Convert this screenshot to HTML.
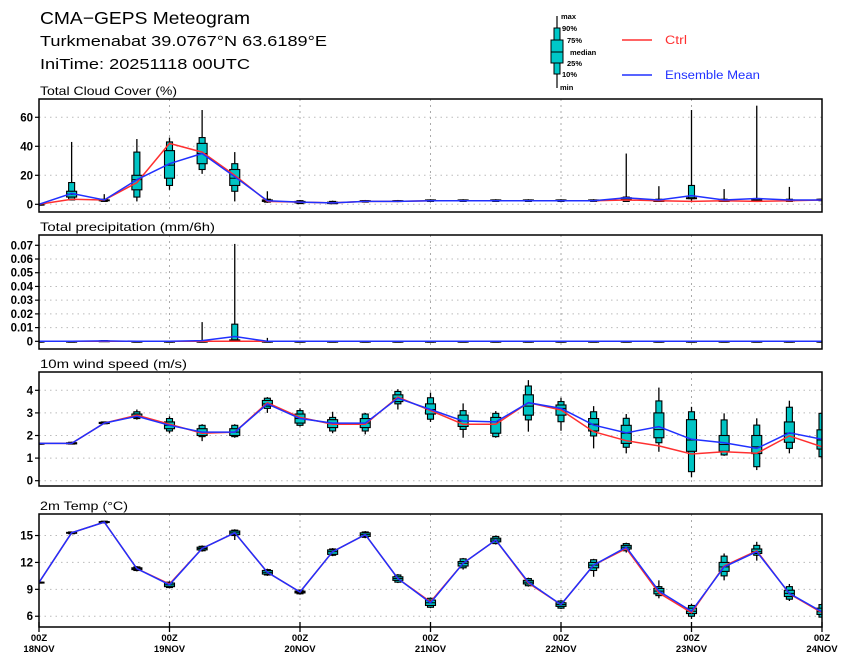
<!DOCTYPE html>
<html><head><meta charset="utf-8"><style>
html,body{margin:0;padding:0;background:#fff;}
svg{display:block;font-family:"Liberation Sans",Arial,sans-serif;}
</style></head><body>
<svg id="chart" width="849" height="664" viewBox="0 0 849 664" xmlns="http://www.w3.org/2000/svg">
<text x="40" y="24" font-size="17.5" fill="#000" textLength="210" lengthAdjust="spacingAndGlyphs">CMA−GEPS Meteogram</text>
<text x="40" y="46" font-size="15" fill="#000" textLength="287" lengthAdjust="spacingAndGlyphs">Turkmenabat 39.0767°N 63.6189°E</text>
<text x="40" y="69" font-size="15" fill="#000" textLength="210" lengthAdjust="spacingAndGlyphs">IniTime: 20251118 00UTC</text>
<g>
 <line x1="557" y1="16" x2="557" y2="88" stroke="#000" stroke-width="1.2"/>
 <rect x="554" y="28" width="6" height="46" fill="#00c8c8" stroke="#000"/>
 <rect x="551" y="40" width="12" height="23" fill="#00c8c8" stroke="#000"/>
 <line x1="551" y1="52" x2="563" y2="52" stroke="#000"/>
 <g font-size="7.5" font-weight="bold" fill="#000">
  <text x="561" y="19">max</text><text x="562" y="31">90%</text><text x="567" y="43">75%</text>
  <text x="570" y="55">median</text><text x="567" y="66">25%</text><text x="562" y="77">10%</text><text x="560" y="90">min</text>
 </g>
 <line x1="622" y1="40" x2="652" y2="40" stroke="#ff3030" stroke-width="1.5"/>
 <text x="665" y="44" font-size="11.5" fill="#ff3030" textLength="22" lengthAdjust="spacingAndGlyphs">Ctrl</text>
 <line x1="622" y1="75" x2="652" y2="75" stroke="#2030ff" stroke-width="1.5"/>
 <text x="665" y="79" font-size="11.5" fill="#2030ff" textLength="95" lengthAdjust="spacingAndGlyphs">Ensemble Mean</text>
</g>
<g id="panels"></g>
</svg>
<script>
// ---- data (25 steps, 6-hourly from 00Z 18NOV) ----
const dayLabels = ["18NOV","19NOV","20NOV","21NOV","22NOV","23NOV","24NOV"];
// Cloud cover (%)
const cloudMean = [0,7.5,3,17,28,35,19,2.5,1.5,1,2,2,2.5,2.5,2.5,2.5,2.5,2.5,4.5,3,6,3,4,3,3];
const cloudCtrl = [0,3.5,3,15,42,36,20,2,1.5,1,2,2,2.5,2.5,2.5,2.5,2.5,2.5,3,2.5,2,2.5,2,2.5,3];
const cloudMin = [0,3,2,2,10,21,2,1,0.5,0.5,1.5,1.5,2,2,2,2,2,2,2,2,2,2,2,2,2.5];
const cloudP10 = [0,3,2,5,13,24,9,1.5,0.5,0.5,1.5,2,2,2,2,2,2,2,2,2,3.9,2,2,2,2.5];
const cloudP25 = [0,5,2.5,10,18,28,13,2,1,0.5,2,2,2.5,2.5,2.5,2.5,2.5,2.5,3,2,3.9,2,2,2.5,3];
const cloudMed = [0,7,3,17,27,35,18,2.5,1.5,1,2,2,2.5,2.5,2.5,2.5,2.5,2.5,3.5,2.5,4,2.5,2.5,2.5,3];
const cloudP75 = [0,9,3,20,37,42,24,3,2,1.5,2.5,2.5,3,3,3,3,3,3,4.5,3,4.5,3,3,3,3.5];
const cloudP90 = [0,15,3.5,36,43,46,28,3.5,2.5,2,2.5,2.5,3,3,3,3,3,3,5,3.5,13,3.5,4,3.5,3.5];
const cloudMax = [0,43,7,45,46,65,36,9,3,2.5,3,3,3.5,3.5,3.5,3.5,3.5,3.5,35,12.5,65,10.5,68,12,4];
const cloudTicks = [0,20,40,60];
// Precipitation (mm/6h)
const precMean = [0,0,0.0003,0,0,0.0005,0.0035,0,0,0,0,0,0,0,0,0,0,0,0,0,0,0,0,0,0];
const precCtrl = [0,0,0,0,0,0,0,0,0,0,0,0,0,0,0,0,0,0,0,0,0,0,0,0,0];
const precMin = [0,0,0,0,0,0,0,0,0,0,0,0,0,0,0,0,0,0,0,0,0,0,0,0,0];
const precP10 = [0,0,0,0,0,0,0.001,0,0,0,0,0,0,0,0,0,0,0,0,0,0,0,0,0,0];
const precP25 = [0,0,0,0,0,0,0.001,0,0,0,0,0,0,0,0,0,0,0,0,0,0,0,0,0,0];
const precMed = [0,0,0.0003,0,0,0,0.001,0,0,0,0,0,0,0,0,0,0,0,0,0,0,0,0,0,0];
const precP75 = [0,0,0.0003,0,0,0,0.001,0,0,0,0,0,0,0,0,0,0,0,0,0,0,0,0,0,0];
const precP90 = [0,0,0.0005,0,0,0,0.0125,0,0,0,0,0,0,0,0,0,0,0,0,0,0,0,0,0,0];
const precMax = [0,0,0.0008,0,0,0.014,0.071,0.0025,0,0,0,0,0,0,0,0,0,0,0,0,0,0,0,0,0];
const precTicks = [0,0.01,0.02,0.03,0.04,0.05,0.06,0.07];
// 10m wind speed (m/s)
const windMean = [1.65,1.65,2.55,2.85,2.45,2.15,2.15,3.4,2.75,2.55,2.55,3.65,3.15,2.64,2.6,3.45,3.2,2.46,2.12,2.39,1.83,1.68,1.43,2.12,1.83];
const windCtrl = [1.65,1.65,2.55,2.9,2.5,2.1,2.15,3.45,2.8,2.5,2.5,3.7,3.1,2.5,2.5,3.45,3.13,2.17,1.77,1.54,1.18,1.28,1.21,1.98,1.5];
const windMin = [1.65,1.6,2.5,2.7,2.1,1.75,1.9,3.0,2.4,2.1,2.05,3.15,2.6,1.9,1.9,2.17,2.21,1.43,1.21,1.28,0.15,1.1,0.47,1.21,1.0];
const windP10 = [1.65,1.62,2.52,2.75,2.2,1.95,1.95,3.2,2.45,2.2,2.2,3.4,2.72,2.27,1.95,2.69,2.61,1.98,1.48,1.68,0.4,1.14,0.62,1.43,1.06];
const windP25 = [1.65,1.63,2.53,2.8,2.3,2.0,2.0,3.3,2.55,2.35,2.35,3.5,2.95,2.4,2.1,2.9,2.9,2.2,1.65,1.9,1.3,1.3,1.2,1.7,1.4];
const windMed = [1.65,1.65,2.55,2.85,2.45,2.15,2.15,3.4,2.75,2.55,2.55,3.65,3.15,2.64,2.6,3.3,3.2,2.5,2.1,2.26,1.8,1.6,1.5,2.1,1.8];
const windP75 = [1.65,1.68,2.58,2.95,2.6,2.3,2.3,3.55,2.95,2.7,2.75,3.8,3.4,2.9,2.8,3.8,3.35,2.75,2.45,3.0,2.7,2.0,2.0,2.6,2.25];
const windP90 = [1.65,1.7,2.6,3.05,2.75,2.45,2.45,3.65,3.1,2.8,2.95,3.95,3.67,3.1,2.98,4.19,3.5,3.05,2.76,3.53,3.05,2.69,2.46,3.25,2.98];
const windMax = [1.65,1.72,2.62,3.15,2.85,2.5,2.5,3.7,3.2,3.05,3.0,4.05,3.9,3.42,3.08,4.45,3.67,3.3,2.95,4.12,3.27,2.98,2.76,3.54,3.0];
const windTicks = [0,1,2,3,4];
// 2m temperature (°C)
const tempMean = [9.76,15.3,16.5,11.3,9.5,13.55,15.3,10.9,8.7,13.2,15.1,10.2,7.5,11.9,14.5,9.8,7.3,11.7,13.7,8.8,6.55,11.5,13.2,8.55,6.5];
const tempCtrl = [9.76,15.3,16.5,11.3,9.6,13.55,15.3,10.9,8.7,13.2,15.1,10.2,7.6,11.9,14.5,9.7,7.3,11.7,13.55,8.6,6.4,11.6,13.3,8.5,6.4];
const tempMin = [9.7,15.2,16.4,11.0,9.1,13.2,14.5,10.5,8.4,12.7,14.7,9.7,6.9,11.2,14.0,9.3,6.8,10.4,13.1,8.0,5.7,10.0,12.2,7.7,5.8];
const tempP10 = [9.7,15.2,16.4,11.1,9.2,13.3,15.0,10.6,8.5,12.8,14.8,9.8,7.0,11.4,14.1,9.4,6.9,11.1,13.3,8.3,6.0,10.5,12.8,7.9,5.9];
const tempP25 = [9.7,15.25,16.45,11.2,9.3,13.4,15.1,10.7,8.6,12.9,14.9,10.0,7.2,11.6,14.3,9.6,7.1,11.4,13.5,8.5,6.3,11.0,13.0,8.2,6.2];
const tempMed = [9.76,15.3,16.5,11.3,9.5,13.55,15.3,10.9,8.7,13.2,15.1,10.2,7.5,11.9,14.5,9.8,7.3,11.7,13.7,8.8,6.55,11.5,13.2,8.55,6.5];
const tempP75 = [9.8,15.35,16.55,11.4,9.7,13.7,15.5,11.1,8.8,13.4,15.3,10.4,7.8,12.1,14.7,10.0,7.5,12.0,13.9,9.1,6.9,12.0,13.5,8.9,6.9];
const tempP90 = [9.8,15.4,16.6,11.5,9.8,13.8,15.6,11.2,8.9,13.5,15.4,10.6,8.0,12.4,14.9,10.2,7.7,12.3,14.1,9.3,7.2,12.7,13.9,9.3,7.3];
const tempMax = [9.8,15.4,16.6,11.6,9.9,13.9,15.7,11.3,9.0,13.6,15.5,10.7,8.1,12.5,15.0,10.3,7.8,12.4,14.2,10.0,7.4,13.0,14.3,9.6,7.5];
const tempTicks = [6,9,12,15];

const NS = "http://www.w3.org/2000/svg";
const X0 = 39, X1 = 822, NSTEP = 24;
const xScale = i => X0 + (X1 - X0) * i / NSTEP;
const root = document.getElementById("panels");
function mk(tag, attrs, parent) {
  const e = document.createElementNS(NS, tag);
  for (const k in attrs) e.setAttribute(k, attrs[k]);
  (parent || root).appendChild(e);
  return e;
}
const panels = [
  {key:"cloud", title:"Total Cloud Cover (%)", tlen:137, top:99, bottom:212, ymin:-5.3, ymax:72.6, ticks:cloudTicks, fmt:v=>String(v),
   mean:cloudMean, ctrl:cloudCtrl, mn:cloudMin, p10:cloudP10, p25:cloudP25, med:cloudMed, p75:cloudP75, p90:cloudP90, mx:cloudMax},
  {key:"precip", title:"Total precipitation (mm/6h)", tlen:175, top:235, bottom:349, ymin:-0.0056, ymax:0.0775, ticks:precTicks, fmt:v=>v===0?"0":v.toFixed(2),
   mean:precMean, ctrl:precCtrl, mn:precMin, p10:precP10, p25:precP25, med:precMed, p75:precP75, p90:precP90, mx:precMax},
  {key:"wind", title:"10m wind speed (m/s)", tlen:147, top:372, bottom:486, ymin:-0.235, ymax:4.81, ticks:windTicks, fmt:v=>String(v),
   mean:windMean, ctrl:windCtrl, mn:windMin, p10:windP10, p25:windP25, med:windMed, p75:windP75, p90:windP90, mx:windMax},
  {key:"temp", title:"2m Temp (°C)", tlen:88, top:514, bottom:627, ymin:4.8, ymax:17.4, ticks:tempTicks, fmt:v=>String(v),
   mean:tempMean, ctrl:tempCtrl, mn:tempMin, p10:tempP10, p25:tempP25, med:tempMed, p75:tempP75, p90:tempP90, mx:tempMax}
];
panels.forEach((p, pi) => {
  const g = mk("g", {});
  
  
  const y = v => p.bottom - (v - p.ymin) / (p.ymax - p.ymin) * (p.bottom - p.top);
  const t = mk("text", {x:40, y:p.top - 4, "font-size":12, fill:"#000", textLength:p.tlen, lengthAdjust:"spacingAndGlyphs"}, g);
  t.textContent = p.title;
  
  
  p.ticks.forEach(v => {
    const gl = mk("line", {x1:X0, x2:X1, y1:y(v), y2:y(v), stroke:"#bbb", "stroke-width":1, "stroke-dasharray":"1.5,4"}, g);
    
    
    const tk = mk("line", {x1:X0 - 4, x2:X0, y1:y(v), y2:y(v), stroke:"#000", "stroke-width":1.2}, g);
    
    
    const tl = mk("text", {x:X0 - 6, y:y(v) + 4, "font-size":11.5, "font-weight":"bold", "text-anchor":"end", fill:"#000"}, g);
    tl.textContent = p.fmt(v);
    
    
  });
  for (let d = 1; d < dayLabels.length - 1; d++) {
    const vl = mk("line", {x1:xScale(d*4), x2:xScale(d*4), y1:p.top, y2:p.bottom, stroke:"#aaa", "stroke-width":1, "stroke-dasharray":"2,4"}, g);
    
    
  }
  const cid = "clip" + pi;
  const cp = mk("clipPath", {id:cid}, g);
  mk("rect", {x:X0, y:p.top, width:X1 - X0, height:p.bottom - p.top}, cp);
  const body = mk("g", {"clip-path":"url(#" + cid + ")"}, g);
  p.mean.forEach((_, i) => {
    const bx = mk("g", {}, body);
    
    
    const cx = xScale(i);
    mk("line", {x1:cx, x2:cx, y1:y(p.mx[i]), y2:y(p.mn[i]), stroke:"#000", "stroke-width":1.3}, bx);
    mk("rect", {x:cx - 3, y:y(p.p90[i]), width:6, height:Math.max(0.8, y(p.p10[i]) - y(p.p90[i])), fill:"#00c4c4", stroke:"#000", "stroke-width":1.1}, bx);
    mk("rect", {x:cx - 5, y:y(p.p75[i]), width:10, height:Math.max(0.8, y(p.p25[i]) - y(p.p75[i])), fill:"#00c4c4", stroke:"#000", "stroke-width":1.1}, bx);
    mk("line", {x1:cx - 5, x2:cx + 5, y1:y(p.med[i]), y2:y(p.med[i]), stroke:"#000", "stroke-width":1}, bx);
  });
  const pts = arr => arr.map((v, i) => xScale(i).toFixed(1) + "," + y(v).toFixed(1)).join(" ");
  const lc = mk("polyline", {points:pts(p.ctrl), fill:"none", stroke:"#ff3030", "stroke-width":1.5}, body);
  
  
  const lm = mk("polyline", {points:pts(p.mean), fill:"none", stroke:"#2030ff", "stroke-width":1.5}, body);
  
  
  const fr = mk("rect", {x:X0, y:p.top, width:X1 - X0, height:p.bottom - p.top, fill:"none", stroke:"#000", "stroke-width":1.5}, g);
  
  
});
const last = panels[panels.length - 1];
dayLabels.forEach((d, k) => {
  const x = xScale(k * 4);
  const tk = mk("line", {x1:x, x2:x, y1:last.bottom - 5, y2:last.bottom + 5, stroke:"#000", "stroke-width":1.3});
  
  
  const t1 = mk("text", {x:x, y:641, "font-size":9.5, "font-weight":"bold", "text-anchor":"middle", fill:"#000"});
  t1.textContent = "00Z";
  
  
  const t2 = mk("text", {x:x, y:652, "font-size":9.5, "font-weight":"bold", "text-anchor":"middle", fill:"#000"});
  t2.textContent = d;
  
  
});
</script>
</body></html>
